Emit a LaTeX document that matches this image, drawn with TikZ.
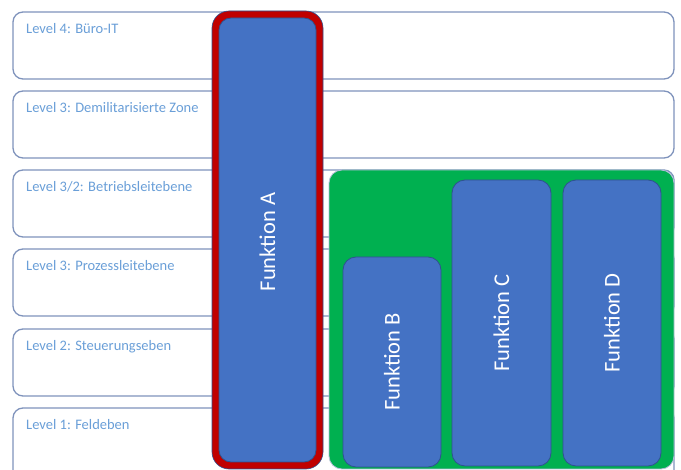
\documentclass[tikz,border=0pt]{standalone}
\usepackage{fontspec}
\setmainfont{Carlito}
\definecolor{lvlborder}{HTML}{7F93BC}
\definecolor{lvltext}{HTML}{6A9FD8}
\definecolor{fblue}{HTML}{4472C4}
\definecolor{fborder}{HTML}{2F528F}
\definecolor{fred}{HTML}{C00000}
\definecolor{fgreen}{HTML}{00B050}
\begin{document}
\begin{tikzpicture}[x=1pt,y=-1pt,
  levelbox/.style={draw=lvlborder,line width=1.3pt,fill=white,rounded corners=10pt},
  leveltext/.style={anchor=base west,inner sep=0pt,text=lvltext,font=\fontsize{14.5}{16}\selectfont},
  funcbox/.style={draw=fborder,line width=0.8pt,fill=fblue,rounded corners=13pt},
  functext/.style={rotate=90,text=white,inner sep=0pt,font=\fontsize{22.5}{25}\selectfont}]
\useasboundingbox (0,0) rectangle (681,470);
\clip (0,0) rectangle (681,470);
% level boxes
\draw[levelbox] (13,12) rectangle (674,79);
\draw[levelbox] (13,91) rectangle (674,158);
\draw[levelbox] (13,170) rectangle (674,237);
\draw[levelbox] (13,249) rectangle (674,316);
\draw[levelbox] (13,329) rectangle (674,396);
\draw[levelbox] (13,408) rectangle (674,485);
\node[leveltext] (l4) at (26,34) {Level 4: Büro-IT};
\node[leveltext] (l3a) at (26,113) {Level 3: Demilitarisierte Zone};
\node[leveltext] (l32) at (26,192) {Level 3/2: Betriebsleitebene};
\node[leveltext] (l3b) at (26,271) {Level 3: Prozessleitebene};
\node[leveltext] (l2) at (26,351) {Level 2: Steuerungseben};
\node[leveltext] (l1) at (26,430) {Level 1: Feldeben};
% green group
\draw[draw=lvlborder!60,line width=0.8pt,fill=fgreen,rounded corners=13pt] (329,170) rectangle (674,469);
\draw[funcbox] (343,257) rectangle (441,467);
\draw[funcbox] (452,180) rectangle (551,466);
\draw[funcbox] (563,180) rectangle (661,466);
\node[functext] (fb) at (392,362) {Funktion B};
\node[functext] (fc) at (501.5,323) {Funktion C};
\node[functext] (fd) at (612,323) {Funktion D};
% Funktion A
\draw[draw=fborder,line width=0.6pt,fill=fred,rounded corners=17pt] (212,11) rectangle (323,469);
\draw[funcbox,rounded corners=12pt] (219,18) rectangle (316,462);
\node[functext] (fa) at (267.5,242) {Funktion A};
\end{tikzpicture}
\end{document}
